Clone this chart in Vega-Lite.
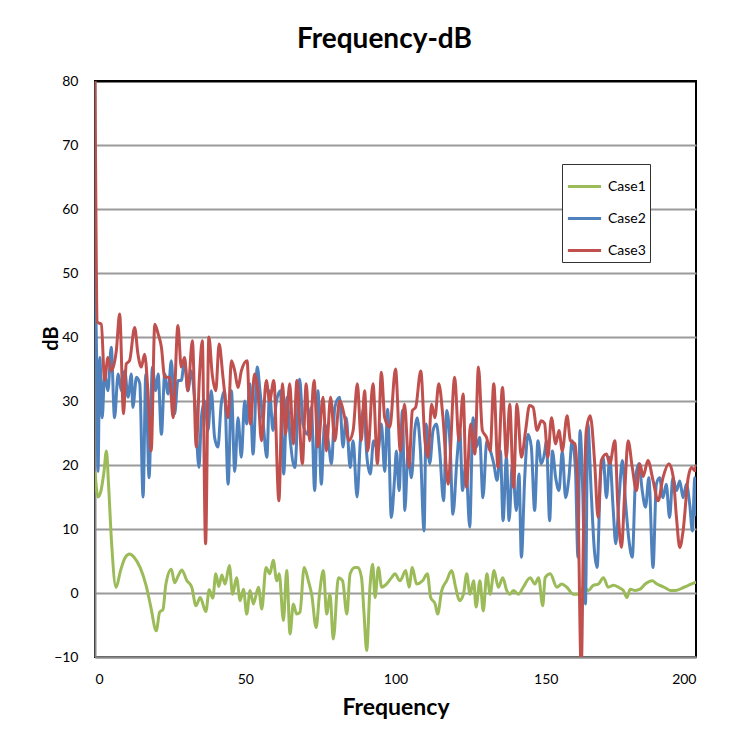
{
  "$schema": "https://vega.github.io/schema/vega-lite/v6.json",
  "width": 601,
  "height": 576,
  "autosize": "none",
  "padding": {"left": 95, "top": 81, "right": 55, "bottom": 87},
  "background": "white",
  "title": {"text": "Frequency-dB", "font": "Lato", "fontSize": 28, "fontWeight": "bold", "color": "#000", "anchor": "middle", "dx": -11, "offset": 20},
  "config": {
    "view": {"stroke": "#000", "strokeWidth": 2},
    "axis": {"labelFont": "Lato", "labelFontSize": 14, "labelColor": "#000", "titleFont": "Lato", "titleFontWeight": "bold", "titleColor": "#000", "ticks": false, "domainColor": "#888", "domainWidth": 2},
    "legend": {"labelFont": "Lato", "labelFontSize": 14, "labelColor": "#000"}
  },
  "datasets": {
    "c1": [
      {"f":0,"v":19},{"f":1,"v":15},{"f":2,"v":16},{"f":3,"v":19},{"f":3.8,"v":22.2},{"f":4.5,"v":17},{"f":5.5,"v":8},{"f":7,"v":0.9},{"f":8.5,"v":3.5},{"f":10,"v":5.5},{"f":11.5,"v":6.1},{"f":13,"v":5.6},{"f":15,"v":4},{"f":17,"v":1.2},{"f":18.5,"v":-2},{"f":20.4,"v":-5.9},{"f":21.5,"v":-3},{"f":22.6,"v":-2.6},{"f":23.6,"v":1.4},{"f":25.4,"v":3.7},{"f":26.5,"v":1.6},{"f":27.7,"v":2.7},{"f":28.9,"v":3.6},{"f":30.5,"v":2},{"f":32.2,"v":0.9},{"f":33.6,"v":-2},{"f":35,"v":-0.7},{"f":36.9,"v":-2.9},{"f":38,"v":0.5},{"f":39.2,"v":-0.8},{"f":40.2,"v":3},{"f":41.2,"v":1},{"f":42.2,"v":2.8},{"f":43.3,"v":1.4},{"f":44.7,"v":4.3},{"f":45.8,"v":-0.2},{"f":47.1,"v":2.4},{"f":48.3,"v":-1.2},{"f":49.4,"v":0.6},{"f":50.5,"v":-3.3},{"f":51.6,"v":0.4},{"f":52.7,"v":-1.7},{"f":54.4,"v":0.9},{"f":55.5,"v":-2.5},{"f":56.9,"v":4},{"f":58.2,"v":3},{"f":59.3,"v":5.1},{"f":60.5,"v":1.9},{"f":61.3,"v":3},{"f":62.7,"v":-4.3},{"f":63.8,"v":3.5},{"f":64.9,"v":-6.4},{"f":66,"v":-1.7},{"f":67.1,"v":-3.3},{"f":68.2,"v":-3},{"f":69.6,"v":4},{"f":71,"v":1.9},{"f":72.1,"v":-0.2},{"f":73.6,"v":-5.4},{"f":74.7,"v":-0.2},{"f":76,"v":3.5},{"f":77.1,"v":-3.3},{"f":78.2,"v":-0.2},{"f":79.3,"v":-7.2},{"f":81,"v":2.4},{"f":82.4,"v":1.9},{"f":83.8,"v":-3.3},{"f":84.9,"v":3},{"f":86.5,"v":4},{"f":87.5,"v":4},{"f":88.7,"v":2.4},{"f":89.5,"v":-3},{"f":90.4,"v":-9},{"f":91.5,"v":0.9},{"f":92.4,"v":4.5},{"f":93.2,"v":-0.7},{"f":94.3,"v":4},{"f":95.4,"v":0.9},{"f":97,"v":1.4},{"f":98.7,"v":2.4},{"f":99.8,"v":3},{"f":101.5,"v":1.9},{"f":103.4,"v":3.5},{"f":104.5,"v":0.9},{"f":105.6,"v":4},{"f":107,"v":1.4},{"f":109,"v":1.9},{"f":110.6,"v":3},{"f":111.7,"v":-0.7},{"f":113.2,"v":-1.7},{"f":114,"v":-3.3},{"f":115.4,"v":0.4},{"f":117,"v":1.9},{"f":118.7,"v":3.5},{"f":120,"v":0.9},{"f":121.3,"v":-1.2},{"f":122.6,"v":-0.2},{"f":123.7,"v":3},{"f":124.8,"v":-0.2},{"f":126,"v":1.9},{"f":126.8,"v":-2.2},{"f":128.1,"v":1.9},{"f":129.2,"v":-2.8},{"f":130.4,"v":3},{"f":131.5,"v":-0.2},{"f":132.8,"v":3.5},{"f":134.2,"v":0.9},{"f":135.7,"v":2.4},{"f":137,"v":0.4},{"f":138.1,"v":-0.2},{"f":139.2,"v":0.4},{"f":140.9,"v":-0.2},{"f":142.5,"v":0.9},{"f":144.8,"v":2.4},{"f":146.4,"v":1.4},{"f":147.6,"v":2.4},{"f":149,"v":-2},{"f":149.8,"v":2.4},{"f":151.5,"v":3},{"f":153.7,"v":0.9},{"f":155.3,"v":1.4},{"f":157,"v":0.9},{"f":159.2,"v":-0.2},{"f":160.9,"v":-0.2},{"f":162.6,"v":0.9},{"f":164.2,"v":0.4},{"f":165.8,"v":1.2},{"f":167.5,"v":1.4},{"f":169.2,"v":2.4},{"f":170.8,"v":0.9},{"f":172.5,"v":1.2},{"f":174.2,"v":0.9},{"f":175.8,"v":0.4},{"f":177,"v":-0.7},{"f":178.1,"v":0.6},{"f":179.8,"v":0.4},{"f":181.4,"v":0.6},{"f":183.1,"v":1.4},{"f":185.4,"v":1.9},{"f":187,"v":1.4},{"f":189.4,"v":0.9},{"f":191.5,"v":0.4},{"f":193.3,"v":0.4},{"f":196,"v":0.9},{"f":198,"v":1.3},{"f":200,"v":1.7}
    ],
    "c2": [
      {"f":0,"v":52},{"f":0.5,"v":38},{"f":1,"v":19},{"f":1.6,"v":36.8},{"f":2.4,"v":27.4},{"f":3.2,"v":34.2},{"f":4.3,"v":31.6},{"f":5.4,"v":38.4},{"f":6.5,"v":27.4},{"f":7.7,"v":34.2},{"f":8.8,"v":31.6},{"f":9.9,"v":34.7},{"f":11,"v":30.6},{"f":12.1,"v":34.2},{"f":12.6,"v":29},{"f":13.8,"v":33.7},{"f":14.9,"v":32.7},{"f":16,"v":15},{"f":16.9,"v":34.2},{"f":18,"v":18},{"f":19.1,"v":35.3},{"f":20.2,"v":31.6},{"f":21,"v":34.2},{"f":22.1,"v":24.8},{"f":23.2,"v":34.2},{"f":24.3,"v":31.1},{"f":25.4,"v":36.3},{"f":26.5,"v":28},{"f":27.6,"v":33.2},{"f":28.7,"v":33.2},{"f":29.8,"v":36.3},{"f":30.9,"v":31.6},{"f":32,"v":34.7},{"f":33.2,"v":30},{"f":34.6,"v":19.6},{"f":35.4,"v":27.4},{"f":36.5,"v":30},{"f":37.6,"v":25.4},{"f":38.7,"v":31.6},{"f":39.8,"v":24.3},{"f":40.9,"v":22.8},{"f":42,"v":29.5},{"f":43.1,"v":31.6},{"f":44.3,"v":17},{"f":45.4,"v":31.6},{"f":46.5,"v":19},{"f":47.6,"v":27.4},{"f":48.7,"v":21.2},{"f":49.8,"v":30},{"f":50.5,"v":26.4},{"f":51.5,"v":32.7},{"f":52.6,"v":21.7},{"f":54,"v":35.3},{"f":54.9,"v":31.6},{"f":56,"v":26.4},{"f":57.2,"v":21.2},{"f":58.1,"v":31.6},{"f":59.2,"v":25.4},{"f":60.4,"v":30},{"f":61.7,"v":31.6},{"f":62.8,"v":18.6},{"f":63.9,"v":30.6},{"f":65,"v":23.8},{"f":66.5,"v":19.6},{"f":68.1,"v":33.4},{"f":69.2,"v":26.4},{"f":70.6,"v":24.8},{"f":72,"v":29},{"f":73.1,"v":16},{"f":74.2,"v":31.6},{"f":75.3,"v":17},{"f":76.4,"v":26.4},{"f":77.6,"v":23.8},{"f":78.7,"v":20.2},{"f":79.8,"v":29},{"f":81.4,"v":30.6},{"f":82.5,"v":22.8},{"f":83.6,"v":27.4},{"f":84.9,"v":19.6},{"f":85.9,"v":23.8},{"f":87.2,"v":15},{"f":88.3,"v":23.8},{"f":89.4,"v":29},{"f":90.5,"v":21.2},{"f":91.6,"v":18.6},{"f":92.7,"v":23.8},{"f":94.2,"v":22.2},{"f":95.3,"v":26.4},{"f":96.4,"v":19},{"f":97.4,"v":28.7},{"f":98.6,"v":11.8},{"f":99.7,"v":18},{"f":100.3,"v":22.2},{"f":101.2,"v":16},{"f":102.3,"v":28.5},{"f":103.1,"v":12.9},{"f":104.2,"v":22.2},{"f":105.3,"v":18},{"f":106.4,"v":25.4},{"f":107.2,"v":27.4},{"f":108.3,"v":22.2},{"f":109.5,"v":9.7},{"f":110.2,"v":26.4},{"f":111.4,"v":20.2},{"f":112.5,"v":25.4},{"f":113.6,"v":26.4},{"f":114.7,"v":22.2},{"f":116,"v":14.4},{"f":117.1,"v":28.5},{"f":118.2,"v":22.8},{"f":119.1,"v":12.3},{"f":120.5,"v":21.2},{"f":121.4,"v":25.4},{"f":122.3,"v":16},{"f":123.4,"v":20.2},{"f":124.7,"v":10.3},{"f":125.8,"v":27.4},{"f":126.9,"v":22.8},{"f":128,"v":24.3},{"f":129.1,"v":14.9},{"f":130.4,"v":23.8},{"f":131.6,"v":22.2},{"f":132.7,"v":20.2},{"f":133.8,"v":17.6},{"f":134.9,"v":22.2},{"f":135.8,"v":11.3},{"f":136.9,"v":21.2},{"f":137.8,"v":11.3},{"f":138.9,"v":20.2},{"f":140.2,"v":12.9},{"f":141.1,"v":18.6},{"f":141.9,"v":5.6},{"f":143,"v":18},{"f":144.1,"v":24.8},{"f":145.2,"v":22.8},{"f":146.3,"v":12.9},{"f":147.4,"v":23.8},{"f":148.5,"v":20.2},{"f":149.7,"v":22.2},{"f":150.2,"v":23.8},{"f":151.3,"v":11.3},{"f":152.2,"v":22.2},{"f":153.3,"v":18},{"f":154.4,"v":16},{"f":155.5,"v":22.2},{"f":156.6,"v":14.9},{"f":157.7,"v":18},{"f":158.8,"v":23.8},{"f":159.9,"v":19.1},{"f":160.7,"v":5.6},{"f":161.4,"v":25.4},{"f":162.3,"v":16},{"f":163.2,"v":-1.7},{"f":164,"v":26.4},{"f":165.1,"v":16},{"f":166.2,"v":6.6},{"f":167.1,"v":4},{"f":168.2,"v":18},{"f":169.1,"v":21.2},{"f":170.2,"v":14.9},{"f":171.3,"v":21.2},{"f":172.4,"v":13.4},{"f":173.3,"v":7.7},{"f":174.4,"v":14.9},{"f":175.5,"v":20.7},{"f":176.6,"v":13.9},{"f":177.7,"v":8.2},{"f":178.8,"v":5.6},{"f":179.9,"v":18},{"f":181,"v":20.2},{"f":182.1,"v":16},{"f":183.2,"v":13.4},{"f":184.3,"v":18},{"f":185.7,"v":4},{"f":186.8,"v":17},{"f":187.9,"v":18},{"f":189,"v":14.9},{"f":190.1,"v":17},{"f":191.2,"v":11.8},{"f":192.3,"v":18},{"f":193.5,"v":16},{"f":194.6,"v":17.5},{"f":195.7,"v":14.9},{"f":196.8,"v":17},{"f":197.9,"v":13.9},{"f":198.8,"v":9.7},{"f":199.6,"v":18},{"f":200,"v":12}
    ],
    "c3": [
      {"f":0,"v":80},{"f":0.8,"v":42.3},{"f":2.1,"v":42},{"f":3.2,"v":33.2},{"f":4.3,"v":36.8},{"f":5.4,"v":34.7},{"f":7.1,"v":37.9},{"f":8.2,"v":43.6},{"f":9.5,"v":28},{"f":10.4,"v":35.8},{"f":11.5,"v":36.3},{"f":13.2,"v":41.5},{"f":14.3,"v":37.3},{"f":15.4,"v":35.3},{"f":16.5,"v":37.3},{"f":17.6,"v":31.6},{"f":18.7,"v":22.2},{"f":19.9,"v":42},{"f":21,"v":40.5},{"f":22.1,"v":38.4},{"f":23.2,"v":33.7},{"f":24.8,"v":33.7},{"f":26,"v":27.4},{"f":27.6,"v":41.8},{"f":28.7,"v":35.3},{"f":29.8,"v":36.8},{"f":30.9,"v":31.6},{"f":32.4,"v":39.4},{"f":33.7,"v":22.8},{"f":34.8,"v":34.2},{"f":35.7,"v":39.4},{"f":36.8,"v":7.7},{"f":37.9,"v":40},{"f":39,"v":34.2},{"f":40.2,"v":31.6},{"f":41.3,"v":38.9},{"f":42.6,"v":33.7},{"f":44.3,"v":27.4},{"f":45.4,"v":36.3},{"f":46.5,"v":34.7},{"f":47.6,"v":32.1},{"f":48.7,"v":34.7},{"f":50.6,"v":36.3},{"f":51.7,"v":26.4},{"f":53.1,"v":34.2},{"f":54.2,"v":31.6},{"f":55.4,"v":23.8},{"f":57,"v":33.2},{"f":58.1,"v":30},{"f":59.5,"v":33.2},{"f":61.2,"v":14.4},{"f":62.4,"v":32.7},{"f":63.4,"v":24.8},{"f":64.8,"v":32.7},{"f":66,"v":23.3},{"f":67.2,"v":33.2},{"f":69,"v":20.2},{"f":70.3,"v":32.7},{"f":71.4,"v":23.8},{"f":72.9,"v":33.2},{"f":74.2,"v":22.8},{"f":75.9,"v":30.6},{"f":77,"v":22.2},{"f":78.4,"v":30.6},{"f":79.8,"v":23.8},{"f":81.4,"v":30},{"f":83.1,"v":27.4},{"f":84.5,"v":23.8},{"f":85.9,"v":25.4},{"f":87.3,"v":32.7},{"f":88.6,"v":23.8},{"f":89.7,"v":31.6},{"f":90.8,"v":22.2},{"f":92.5,"v":32.7},{"f":94,"v":20.2},{"f":95.3,"v":34.5},{"f":96.4,"v":27.4},{"f":98.1,"v":25.9},{"f":100,"v":35},{"f":101.6,"v":22.2},{"f":103,"v":29.5},{"f":104.5,"v":19.6},{"f":105.6,"v":28.5},{"f":106.7,"v":29},{"f":108.4,"v":34.7},{"f":109.8,"v":23.8},{"f":110.8,"v":21.2},{"f":112,"v":29.5},{"f":113.1,"v":27.4},{"f":114.4,"v":32.7},{"f":115.8,"v":27.4},{"f":117.5,"v":17},{"f":119.7,"v":33.7},{"f":121.1,"v":23.8},{"f":122.5,"v":31.1},{"f":123.6,"v":16.5},{"f":125,"v":26.4},{"f":126.4,"v":21.7},{"f":127.6,"v":35.3},{"f":128.9,"v":25.4},{"f":130.3,"v":24.3},{"f":131.5,"v":22.2},{"f":132.7,"v":32.7},{"f":134.1,"v":19.6},{"f":135.6,"v":32.1},{"f":136.9,"v":21.2},{"f":138,"v":29.5},{"f":139.3,"v":16.5},{"f":140.4,"v":29.5},{"f":141.9,"v":21.2},{"f":143.3,"v":25.4},{"f":144.6,"v":29.3},{"f":145.8,"v":29},{"f":147.1,"v":25.4},{"f":148.5,"v":26.9},{"f":149.6,"v":26.5},{"f":150.7,"v":21.2},{"f":151.9,"v":27.4},{"f":153.3,"v":23.3},{"f":154.4,"v":25.4},{"f":155.5,"v":22.2},{"f":157.1,"v":27.7},{"f":158.2,"v":23.8},{"f":159.7,"v":23.3},{"f":160.7,"v":15},{"f":161.8,"v":-12},{"f":162.6,"v":10.8},{"f":163.5,"v":25.4},{"f":164.8,"v":27.7},{"f":166.3,"v":20.2},{"f":167.4,"v":11.8},{"f":168.5,"v":20.7},{"f":170.2,"v":21.7},{"f":171.3,"v":20.2},{"f":173,"v":23.8},{"f":174,"v":13.4},{"f":175.2,"v":7.1},{"f":176.3,"v":16},{"f":177.4,"v":23.8},{"f":178.8,"v":19.6},{"f":180.2,"v":16},{"f":181.3,"v":20.2},{"f":182.4,"v":18.2},{"f":184,"v":20.7},{"f":185.7,"v":17.6},{"f":187.4,"v":14.4},{"f":189,"v":18},{"f":191,"v":20.2},{"f":192.4,"v":18.2},{"f":193.5,"v":11.8},{"f":194.6,"v":7.1},{"f":195.7,"v":9.7},{"f":197.4,"v":18},{"f":198.5,"v":19.6},{"f":199.7,"v":19.1},{"f":200,"v":20}
    ]
  },
  "encoding": {
    "x": {"field": "f", "type": "quantitative", "scale": {"domain": [0, 200], "nice": false}, "axis": {"values": [0, 50, 100, 150, 200], "grid": false, "labelPadding": 15, "title": "Frequency", "titleFontSize": 23, "titlePadding": 10}},
    "y": {"field": "v", "type": "quantitative", "scale": {"domain": [-10, 80], "nice": false}, "axis": {"values": [-10, 0, 10, 20, 30, 40, 50, 60, 70, 80], "grid": true, "gridColor": {"condition": {"test": "datum.value === 80", "value": "#000"}, "value": "#9a9a9a"}, "gridWidth": 2, "labelPadding": 17, "title": "dB", "titleFontSize": 20, "titleX": -38, "titleY": 257, "titleBaseline": "alphabetic", "titleAngle": -90}},
    "color": {"datum": "Case1", "type": "nominal", "scale": {"domain": ["Case1", "Case2", "Case3"], "range": ["#9BBB59", "#4F81BD", "#C0504D"]}, "legend": {"title": null, "orient": "none", "legendX": 467, "legendY": 83, "symbolType": "stroke", "symbolSize": 1100, "symbolStrokeWidth": 3, "rowPadding": 6, "padding": 4, "labelOffset": 5, "strokeColor": "#333", "fillColor": "white"}}
  },
  "layer": [
    {"data": {"name": "c1"}, "mark": {"type": "line", "strokeWidth": 3, "interpolate": "monotone", "clip": true}, "encoding": {"color": {"datum": "Case1", "type": "nominal"}}},
    {"data": {"name": "c2"}, "mark": {"type": "line", "strokeWidth": 3, "interpolate": "monotone", "clip": true}, "encoding": {"color": {"datum": "Case2", "type": "nominal"}}},
    {"data": {"name": "c3"}, "mark": {"type": "line", "strokeWidth": 3, "interpolate": "monotone", "clip": true}, "encoding": {"color": {"datum": "Case3", "type": "nominal"}}}
  ]
}
